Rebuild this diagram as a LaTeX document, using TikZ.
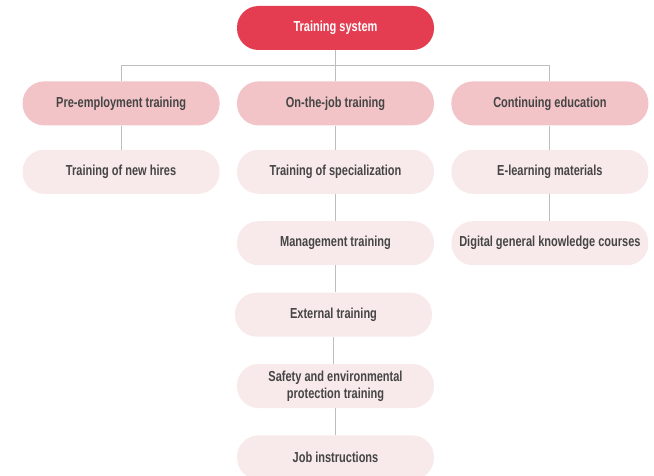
\documentclass[tikz,border=0pt]{standalone}
\usepackage{fontspec}
\setmainfont{Liberation Sans}[FakeStretch=0.76]
\usepackage{xcolor}
\usepackage{tikz}
\usetikzlibrary{positioning, calc}
\definecolor{rootred}{HTML}{E43D52}
\definecolor{levelpink}{HTML}{F2C4C7}
\definecolor{leafpink}{HTML}{F8E9EA}
\definecolor{textgray}{HTML}{454545}
\definecolor{linegray}{HTML}{BDBDBD}
\tikzstyle{pill} = [rectangle, rounded corners=21.5pt, minimum width=197pt, minimum height=44pt, inner sep=0pt, text centered, align=center, draw=none, font=\fontsize{14.5pt}{17pt}\selectfont\bfseries, text=textgray]
\tikzstyle{rootbox} = [pill, fill=rootred, text=white]
\tikzstyle{mainbox} = [pill, fill=levelpink]
\tikzstyle{subbox} = [pill, fill=leafpink]
\tikzstyle{link} = [line width=0.9pt, draw=linegray]

\begin{document}
\begin{tikzpicture}[node distance=27pt]
    \useasboundingbox (0,0) rectangle (654pt,-476pt);
    \node (root) [rootbox] at (335.5pt,-28pt) {Training system};

    \node (onjob) [mainbox, below=31pt of root] {On-the-job training};
    \node (preemp) [mainbox, left=17pt of onjob] {Pre-employment training};
    \node (contedu) [mainbox, right=17pt of onjob] {Continuing education};

    \node (newhires) [subbox, below=24pt of preemp] {Training of new hires};

    \node (special) [subbox, below=24pt of onjob] {Training of specialization};
    \node (manage) [subbox, below=of special] {Management training};
    \node (external) [subbox, below=of manage, xshift=-2pt] {External training};
    \node (safety) [subbox, below=of external, xshift=2pt] {Safety and environmental\\protection training};
    \node (jobinst) [subbox, below=of safety] {Job instructions};

    \node (elearn) [subbox, below=24pt of contedu] {E-learning materials};
    \node (digital) [subbox, below=of elearn] {Digital general knowledge courses};

    \coordinate (split) at ($(root.south)!0.5!(onjob.north)$);

    \draw [link] (root) -- (onjob);
    \draw [link] (preemp.north) |- (split) -| (contedu.north);
    \draw [link] (preemp) -- (newhires);
    \draw [link] (onjob) -- (special);
    \draw [link] (special) -- (manage);
    \draw [link] (manage.south) -- (manage.south |- external.north);
    \draw [link] (external.south) -- (external.south |- safety.north);
    \draw [link] (safety) -- (jobinst);
    \draw [link] (contedu) -- (elearn);
    \draw [link] (elearn) -- (digital);
\end{tikzpicture}
\end{document}
